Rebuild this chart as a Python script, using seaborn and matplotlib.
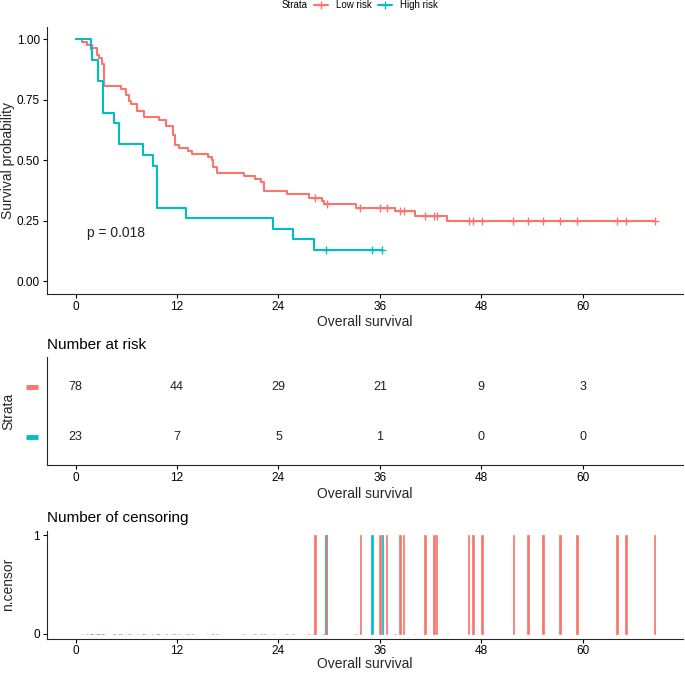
import numpy as np
import pandas as pd
import matplotlib
matplotlib.use("Agg")
import matplotlib.pyplot as plt
from matplotlib.lines import Line2D
from matplotlib.transforms import blended_transform_factory
import seaborn as sns

# ---------------- data ----------------
strata = ["Low risk", "High risk"]
colors = ["#F8766D", "#00BFC4"]

low_time = [0, 0.8, 1.3, 1.9, 2.5, 2.8, 3.1, 3.3, 5.4, 5.9, 6.3, 6.5, 7.3, 8.1, 9.9,
            10.7, 11.5, 11.75, 12.2, 13.3, 13.8, 15.6, 16.1, 16.3, 16.7, 19.9, 21.2,
            21.9, 22.3, 25.0, 27.6, 29.2, 29.4, 33.2, 37.8, 40.1, 44.0, 68.5]
low_surv = [1.000, 0.987, 0.974, 0.962, 0.936, 0.923, 0.897, 0.808, 0.795, 0.769, 0.744,
            0.731, 0.705, 0.679, 0.667, 0.641, 0.603, 0.564, 0.551, 0.538, 0.526, 0.513,
            0.500, 0.474, 0.449, 0.436, 0.423, 0.410, 0.372, 0.359, 0.346, 0.333, 0.319,
            0.305, 0.289, 0.271, 0.249, 0.249]
low_censor = [28.3, 29.7, 33.7, 36.0, 36.8, 38.4, 38.8, 41.3, 42.4, 42.7, 46.5, 47.0,
              48.1, 51.8, 53.5, 55.3, 57.3, 59.3, 64.1, 65.1, 68.5]

high_time = [0, 1.8, 1.9, 2.6, 3.2, 4.5, 5.1, 8.0, 9.1, 9.6, 13.1, 23.4, 25.7, 28.2, 36.3]
high_surv = [1.000, 0.957, 0.913, 0.826, 0.696, 0.652, 0.565, 0.522, 0.478, 0.304,
             0.261, 0.217, 0.174, 0.130, 0.130]
high_censor = [29.6, 35.1, 36.3]

risk_times = [0, 12, 24, 36, 48, 60]
risk_low = [78, 44, 29, 21, 9, 3]
risk_high = [23, 7, 5, 1, 0, 0]

pval_text = "p = 0.018"
xticks = [0, 12, 24, 36, 48, 60]
yticks = [0.00, 0.25, 0.50, 0.75, 1.00]

# ---------------- style ----------------
sns.set_theme(style="ticks")
plt.rcParams["font.family"] = ["Liberation Sans", "DejaVu Sans"]
plt.rcParams["axes.linewidth"] = 0.8
plt.rcParams["xtick.major.width"] = 0.8
plt.rcParams["ytick.major.width"] = 0.8
plt.rcParams["xtick.major.size"] = 3
plt.rcParams["ytick.major.size"] = 3
plt.rcParams["xtick.major.pad"] = 2
plt.rcParams["ytick.major.pad"] = 2
plt.rcParams["xtick.color"] = "black"
plt.rcParams["ytick.color"] = "black"
plt.rcParams["text.color"] = "black"

W, H = 685, 674
fig = plt.figure(figsize=(W / 100, H / 100), dpi=100)


def ax_box(left, top, right, bottom):
    return fig.add_axes([left / W, 1 - bottom / H, (right - left) / W, (bottom - top) / H])


XLIM = (-3.43, 71.93)
tick_fs = 8.5
lab_fs = 10
ylab_x = -0.050

# ---------------- panel 1: KM curves ----------------
ax1 = ax_box(46.7, 26.9, 683.5, 293.6)
curves = [(low_time, low_surv, low_censor), (high_time, high_surv, high_censor)]
for (t, s, cen), c in zip(curves, colors):
    sns.lineplot(x=t, y=s, drawstyle="steps-post", color=c, lw=1.5, ax=ax1,
                 estimator=None, sort=False)
    t_arr = np.asarray(t)
    s_arr = np.asarray(s)
    idx = np.searchsorted(t_arr, np.asarray(cen), side="right") - 1
    sns.scatterplot(x=cen, y=s_arr[idx], marker="+", s=35, color=c, linewidth=1.0,
                    ax=ax1, zorder=3)
ax1.set_xlim(XLIM)
ax1.set_ylim(-0.05, 1.05)
ax1.set_xticks(xticks)
ax1.set_yticks(yticks)
ax1.set_yticklabels([f"{v:.2f}" for v in yticks])
ax1.tick_params(labelsize=tick_fs)
ax1.set_xlabel("Overall survival", fontsize=lab_fs)
ax1.set_ylabel("Survival probability", fontsize=lab_fs)
ax1.yaxis.set_label_coords(ylab_x, 0.5)
ax1.xaxis.labelpad = 2
ax1.text(1.35, 0.2, pval_text, fontsize=10, ha="left", va="center", color="#222222")
sns.despine(ax=ax1)

# legend
fig.text(282 / W, 1 - 5 / H, "Strata", fontsize=7, ha="left", va="center")
handles = [Line2D([], [], color=c, lw=1.5, marker="+", markersize=6, markeredgewidth=1.0)
           for c in colors]
fig.legend(handles, strata, loc="center left", bbox_to_anchor=(314 / W, 1 - 5 / H),
           ncol=2, frameon=False, fontsize=7, handlelength=1.4, handletextpad=0.9,
           columnspacing=0.6, borderaxespad=0, borderpad=0)

# ---------------- panel 2: risk table ----------------
ax2 = ax_box(46.7, 357, 683.5, 465)
df_risk = pd.DataFrame({
    "time": risk_times * 2,
    "n": risk_low + risk_high,
    "row": [2] * len(risk_times) + [1] * len(risk_times),
})
for _, r in df_risk.iterrows():
    ax2.text(r["time"], r["row"], f"{int(r['n'])}", ha="center", va="center",
             fontsize=9, color="#222222")
ax2.set_xlim(XLIM)
ax2.set_ylim(0.45, 2.6)
ax2.set_xticks(xticks)
ax2.set_yticks([2, 1])
ax2.set_yticklabels(["", ""])
ax2.tick_params(axis="y", length=0)
ax2.tick_params(labelsize=tick_fs)
trans = blended_transform_factory(ax2.transAxes, ax2.transData)
for row, c in zip([2, 1], colors):
    ax2.plot([-0.032, -0.013], [row, row], color=c, lw=3.5, transform=trans,
             clip_on=False, solid_capstyle="butt")
ax2.set_xlabel("Overall survival", fontsize=lab_fs)
ax2.set_ylabel("Strata", fontsize=lab_fs)
ax2.yaxis.set_label_coords(ylab_x, 0.5)
ax2.xaxis.labelpad = 2
ax2.set_title("Number at risk", loc="left", fontsize=11, pad=6)
sns.despine(ax=ax2)

# ---------------- panel 3: number of censoring ----------------
ax3 = ax_box(46.7, 530.5, 683.5, 638.5)
order = [1, 0]  # draw High risk first, Low risk on top
for i in order:
    t, s, cen = curves[i]
    c = colors[i]
    ev = t[1:-1]
    ax3.bar(ev, [0] * len(ev), width=0.2, color=c, edgecolor=c, linewidth=0.5)
    ax3.bar(cen, [1] * len(cen), width=0.2, color=c, edgecolor=c, linewidth=0.5)
ax3.set_xlim(XLIM)
ax3.set_ylim(-0.05, 1.05)
ax3.set_xticks(xticks)
ax3.set_yticks([0, 1])
ax3.tick_params(labelsize=tick_fs)
ax3.tick_params(axis="x", pad=1.5)
ax3.set_xlabel("Overall survival", fontsize=lab_fs)
ax3.set_ylabel("n.censor", fontsize=lab_fs)
ax3.yaxis.set_label_coords(ylab_x, 0.5)
ax3.xaxis.labelpad = 0
ax3.set_title("Number of censoring", loc="left", fontsize=11, pad=6)
sns.despine(ax=ax3)

fig.savefig("out.png", dpi=100)
